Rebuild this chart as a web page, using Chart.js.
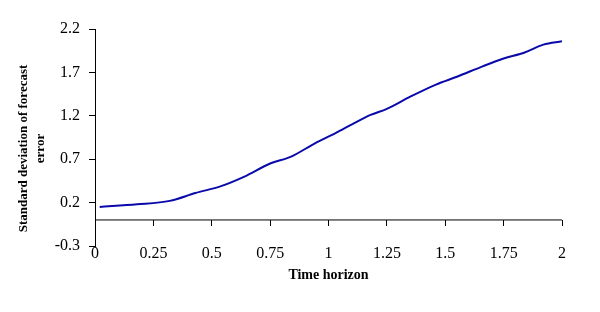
<!DOCTYPE html>
<html>
<head>
<meta charset="utf-8">
<script src="https://cdn.jsdelivr.net/npm/chart.js@4/dist/chart.umd.min.js"></script>
<style>
  html, body { margin: 0; padding: 0; background: #fff; }
  #wrap { width: 600px; height: 312px; }
</style>
</head>
<body>
<div id="wrap"><canvas id="sdChart"></canvas></div>
<script>
// ── datos ──
const horizon = [0.02, 0.18, 0.32, 0.43, 0.54, 0.64, 0.75, 0.84, 0.94, 1.03, 1.11,
                 1.18, 1.25, 1.35, 1.46, 1.55, 1.66, 1.75, 1.84, 1.92, 2.0];
const sdError = [0.15, 0.18, 0.22, 0.31, 0.39, 0.50, 0.65, 0.73, 0.88, 1.00, 1.115,
                 1.21, 1.28, 1.42, 1.56, 1.65, 1.77, 1.86, 1.93, 2.02, 2.06];
const yTicks  = [-0.3, 0.2, 0.7, 1.2, 1.7, 2.2];
const xTicks  = [0, 0.25, 0.5, 0.75, 1, 1.25, 1.5, 1.75, 2];
const yTitle  = ['Standard deviation of forecast', 'error'];
const xTitle  = 'Time horizon';

const SERIF = "'Liberation Serif', 'Times New Roman', serif";

// marca de tick: mitad superior transparente, mitad inferior negra
const tickMark = document.createElement('canvas');
tickMark.width = 1;
tickMark.height = 12;
(() => {
  const c = tickMark.getContext('2d');
  c.fillStyle = '#000';
  c.fillRect(0, 6, 1, 6);
})();

// título vertical, dibujado a mano para centrarlo como en el original
const yTitlePlugin = {
  id: 'yTitle',
  afterDraw(chart) {
    const { ctx, chartArea } = chart;
    ctx.save();
    ctx.translate(24, (chartArea.top + chartArea.bottom) / 2 + 11);
    ctx.rotate(-Math.PI / 2);
    ctx.fillStyle = '#000';
    ctx.font = 'bold 13px ' + SERIF;
    ctx.textAlign = 'center';
    ctx.textBaseline = 'middle';
    yTitle.forEach((line, i) => ctx.fillText(line, 0, i * 17));
    ctx.restore();
  }
};

new Chart(document.getElementById('sdChart').getContext('2d'), {
  type: 'line',
  data: {
    datasets: [
      {
        // eje horizontal en y = 0, con sus marcas hacia abajo
        data: xTicks.map(t => ({ x: t, y: 0 })),
        borderColor: '#000',
        borderWidth: 1,
        pointStyle: tickMark,
        pointRadius: 6,
        fill: false,
        clip: false,
      },
      {
        data: horizon.map((t, i) => ({ x: t, y: sdError[i] })),
        borderColor: '#0a0aaa',
        borderWidth: 2,
        pointRadius: 0,
        fill: false,
        cubicInterpolationMode: 'monotone',
      },
    ],
  },
  options: {
    responsive: true,
    maintainAspectRatio: false,
    animation: false,
    layout: { padding: { left: 0, right: 38, top: 29, bottom: 0 } },
    plugins: { legend: { display: false }, tooltip: { enabled: false } },
    scales: {
      x: {
        type: 'linear',
        position: 'bottom',
        min: 0, max: 2,
        afterBuildTicks: s => { s.ticks = xTicks.map(v => ({ value: v })); },
        afterFit: s => { s.height = 66; },
        ticks: {
          color: '#000',
          font: { family: SERIF, size: 16 },
          padding: -2,
          maxRotation: 0,
          autoSkip: false,
          callback: v => String(v),
        },
        grid: { display: false, drawTicks: false },
        border: { display: false },
        title: {
          display: true,
          text: xTitle,
          color: '#000',
          font: { family: SERIF, size: 14, weight: 'bold' },
          padding: { top: 0, bottom: 28 },
        },
      },
      y: {
        min: -0.3, max: 2.2,
        afterBuildTicks: s => { s.ticks = yTicks.map(v => ({ value: v })); },
        afterFit: s => { s.width = 95; },
        ticks: {
          color: '#000',
          font: { family: SERIF, size: 16 },
          padding: 9,
          callback: v => String(v),
        },
        grid: { drawOnChartArea: false, drawTicks: true, tickLength: 6, color: '#000' },
        border: { display: true, color: '#000', width: 1 },
      },
    },
  },
  plugins: [yTitlePlugin],
});
</script>
</body>
</html>
